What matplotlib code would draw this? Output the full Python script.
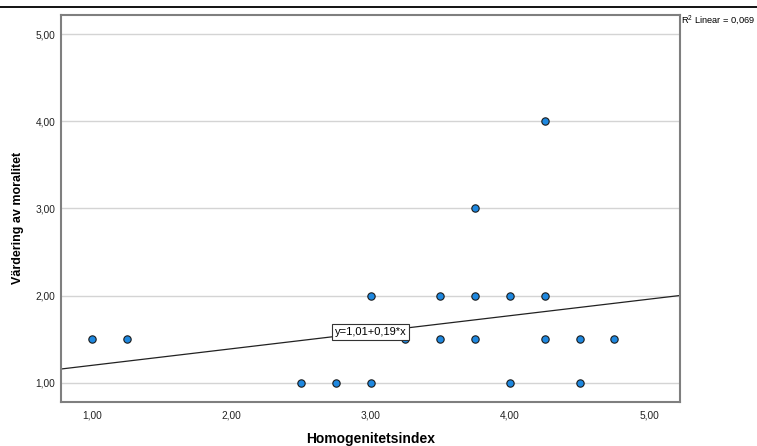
import matplotlib
matplotlib.use('Agg')
from matplotlib import pyplot as plt
import numpy as np

plt.rcParams['font.family'] = ['Liberation Sans', 'DejaVu Sans']
plt.rcParams['mathtext.fontset'] = 'custom'
plt.rcParams['mathtext.rm'] = 'Liberation Sans'

# scatter data (Homogenitetsindex, Värdering av moralitet)
homogenitet = [1.00, 1.25, 2.50, 2.75, 3.00, 4.00, 4.50,
               3.25, 3.50, 3.75, 4.25, 4.50, 4.75,
               3.00, 3.50, 3.75, 4.00, 4.25,
               3.75, 4.25]
moral = [1.5, 1.5, 1.0, 1.0, 1.0, 1.0, 1.0,
         1.5, 1.5, 1.5, 1.5, 1.5, 1.5,
         2.0, 2.0, 2.0, 2.0, 2.0,
         3.0, 4.0]

# linear fit reported by SPSS
intercept = 1.01
slope = 0.19
r2 = 0.069

ticks = [1, 2, 3, 4, 5]
tick_labels = ['1,00', '2,00', '3,00', '4,00', '5,00']

fig = plt.figure(figsize=(7.57, 4.46), dpi=100)
ax = fig.add_axes([0.0806, 0.0987, 0.8177, 0.8677])

ax.set_xlim(0.78, 5.22)
ax.set_ylim(0.78, 5.22)

ax.yaxis.grid(True, color='#d4d4d4', linewidth=1)
ax.set_axisbelow(True)

# fit line across the whole x range
xl = np.array(ax.get_xlim())
ax.plot(xl, intercept + slope * xl, color='#222222', linewidth=0.9, zorder=2)

ax.scatter(homogenitet, moral, s=28, color='#1e88e0', edgecolor='#1a1a1a',
           linewidth=0.8, zorder=3)

ax.text(3.0, 1.58, 'y=1,01+0,19*x', fontsize=8, ha='center', va='center',
        zorder=4, bbox=dict(boxstyle='square,pad=0.25', facecolor='white',
                            edgecolor='#333333', linewidth=0.8))

ax.text(1.0015, 0.987, 'R$^2$ Linear = ' + f'{r2:.3f}'.replace('.', ','),
        transform=ax.transAxes, fontsize=6.7, ha='left', va='center')

ax.set_xticks(ticks)
ax.set_xticklabels(tick_labels)
ax.set_yticks(ticks)
ax.set_yticklabels(tick_labels)
ax.tick_params(axis='both', length=0, labelsize=7.3, colors='#222222')
ax.tick_params(axis='x', pad=6)
ax.tick_params(axis='y', pad=4)

for sp in ax.spines.values():
    sp.set_color('#7f7f7f')
    sp.set_linewidth(1.5)

ax.set_xlabel('Homogenitetsindex', fontsize=10, fontweight='bold')
ax.xaxis.set_label_coords(0.5, -0.078)
ax.set_ylabel('Värdering av moralitet', fontsize=9, fontweight='bold', va='center')
ax.yaxis.set_label_coords(-0.069, 0.475)

# thin rule along the top of the figure
fig.add_artist(plt.Line2D([0, 1], [0.984, 0.984], color='black', linewidth=1.3,
                          transform=fig.transFigure))

plt.savefig('out.png', dpi=100)
